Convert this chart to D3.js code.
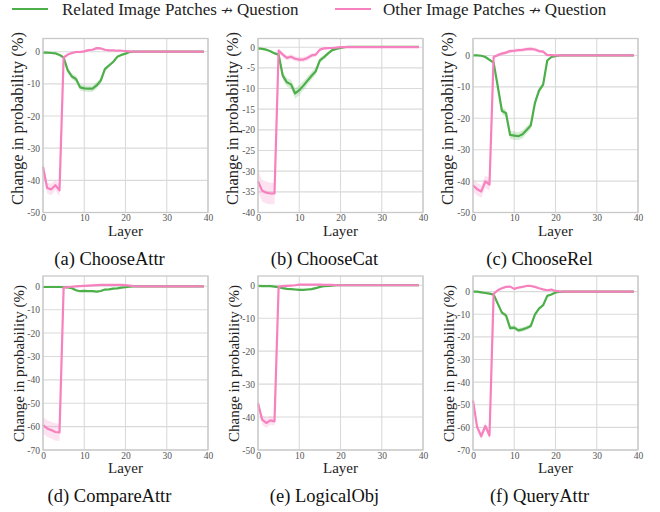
<!DOCTYPE html>
<html>
<head>
<meta charset="utf-8">
<script src="https://cdn.jsdelivr.net/npm/d3@7"></script>
<style>
  body { margin: 0; background: #fff; }
</style>
</head>
<body>
<div id="chart"></div>
<script>
// layer index 0..39
const layers = d3.range(40);
const seriesNames = ["Related Image Patches", "Other Image Patches"];
const seriesSuffix = "Question";
const seriesColors = ["#4daf4a", "#f781bf"];
const xTicks = [0, 10, 20, 30, 40];
const serifFont = "'Liberation Serif', 'Times New Roman', serif";

// (a) ChooseAttr
const chooseAttrRelated = [-0.3,-0.3,-0.4,-0.5,-1.0,-1.8,-5.8,-7.7,-8.5,-11.1,-11.4,-11.5,-11.5,-10.5,-9.0,-5.4,-4.3,-3.2,-1.6,-1.0,-0.6,-0.1,0,0,0,0,0,0,0,0,0,0,0,0,0,0,0,0,0,0];
const chooseAttrRelatedErr = [0.2,0.2,0.2,0.2,0.3,0.4,0.8,0.9,1.0,1.0,1.0,1.0,1.0,1.0,0.9,0.7,0.5,0.4,0.3,0.2,0.2,0.1,0,0,0,0,0,0,0,0,0,0,0,0,0,0,0,0,0,0];
const chooseAttrOther = [-35.8,-42.4,-42.8,-41.5,-43.1,-1.8,-0.9,-0.4,-0.1,-0.1,0.1,0.5,0.6,1.1,1.0,0.6,0.4,0.4,0.3,0.3,0.2,0.1,0,0,0,0,0,0,0,0,0,0,0,0,0,0,0,0,0,0];
const chooseAttrOtherErr = [2.0,1.6,1.8,1.5,2.0,0.4,0.4,0.4,0.4,0.4,0.4,0.4,0.4,0.4,0.4,0.3,0.2,0.2,0.2,0.1,0.1,0.1,0,0,0,0,0,0,0,0,0,0,0,0,0,0,0,0,0,0];

// (b) ChooseCat
const chooseCatRelated = [-0.3,-0.4,-0.6,-1.0,-1.5,-1.8,-6.9,-8.5,-9.0,-11.2,-10.4,-9.3,-8.1,-6.9,-5.8,-3.2,-2.4,-1.5,-0.7,-0.4,-0.2,0,0.1,0.1,0.1,0.1,0.1,0.1,0.1,0.1,0.1,0.1,0.1,0.1,0.1,0.1,0.1,0.1,0.1,0.1];
const chooseCatRelatedErr = [0.2,0.2,0.2,0.2,0.3,0.4,1.0,1.0,1.1,1.3,1.2,1.1,1.0,1.0,0.9,0.6,0.5,0.4,0.3,0.2,0.1,0.1,0,0,0,0,0,0,0,0,0,0,0,0,0,0,0,0,0,0];
const chooseCatOther = [-32.4,-34.7,-35.2,-35.4,-35.4,-0.8,-1.8,-2.6,-2.3,-2.8,-3.0,-3.0,-2.6,-2.0,-1.8,-0.6,-0.3,-0.25,-0.2,-0.1,0,0,0,0,0,0,0,0,0,0,0,0,0,0,0,0,0,0,0,0];
const chooseCatOtherErr = [2.6,2.6,2.7,2.6,2.6,0.5,0.6,0.6,0.6,0.6,0.6,0.6,0.6,0.5,0.5,0.3,0.2,0.2,0.1,0.1,0,0,0,0,0,0,0,0,0,0,0,0,0,0,0,0,0,0,0,0];

// (c) ChooseRel
const chooseRelRelated = [0,0,-0.1,-0.5,-1.4,-2.3,-9.8,-17.6,-18.4,-25.3,-25.5,-25.7,-25.1,-23.7,-22.3,-15.2,-11.2,-9.3,-1.6,-0.5,-0.2,0,0,0,0,0,0,0,0,0,0,0,0,0,0,0,0,0,0,0];
const chooseRelRelatedErr = [0.2,0.2,0.2,0.2,0.3,0.4,0.9,1.1,1.1,1.3,1.3,1.3,1.3,1.2,1.2,1.0,0.9,0.8,0.4,0.2,0.1,0,0,0,0,0,0,0,0,0,0,0,0,0,0,0,0,0,0,0];
const chooseRelOther = [-41.3,-42.6,-43.3,-40.1,-41.1,-0.5,0.1,0.6,0.9,1.4,1.5,1.7,1.8,2.0,2.1,1.9,1.4,1.2,0.1,0.1,0,0,0,0,0,0,0,0,0,0,0,0,0,0,0,0,0,0,0,0];
const chooseRelOtherErr = [2.0,2.0,2.0,2.0,2.0,0.5,0.5,0.5,0.6,0.6,0.6,0.6,0.6,0.6,0.6,0.6,0.5,0.4,0.2,0.1,0,0,0,0,0,0,0,0,0,0,0,0,0,0,0,0,0,0,0,0];

// (d) CompareAttr
const compareAttrRelated = [-0.3,-0.3,-0.3,-0.3,-0.3,-0.4,-0.5,-0.8,-1.7,-2.1,-2.0,-2.1,-2.1,-2.3,-2.0,-1.4,-1.3,-1.0,-0.9,-0.6,-0.4,-0.2,0,0,0,0,0,0,0,0,0,0,0,0,0,0,0,0,0,0];
const compareAttrRelatedErr = [0.2,0.2,0.2,0.2,0.2,0.2,0.3,0.3,0.4,0.4,0.4,0.4,0.4,0.4,0.4,0.3,0.3,0.2,0.2,0.2,0.1,0.1,0,0,0,0,0,0,0,0,0,0,0,0,0,0,0,0,0,0];
const compareAttrOther = [-59.4,-60.8,-61.5,-62.3,-62.5,-0.6,-0.4,-0.2,0,0.1,0.2,0.3,0.4,0.5,0.6,0.6,0.6,0.6,0.6,0.6,0.5,0.3,0.1,0,0,0,0,0,0,0,0,0,0,0,0,0,0,0,0,0];
const compareAttrOtherErr = [3.5,3.5,3.6,3.7,3.7,0.3,0.3,0.3,0.3,0.3,0.3,0.3,0.3,0.3,0.3,0.3,0.3,0.3,0.3,0.3,0.2,0.1,0,0,0,0,0,0,0,0,0,0,0,0,0,0,0,0,0,0];

// (e) LogicalObj
const logicalObjRelated = [-0.2,-0.3,-0.3,-0.3,-0.4,-0.6,-0.9,-1.1,-1.2,-1.3,-1.4,-1.4,-1.3,-1.2,-0.9,-0.5,-0.3,-0.2,-0.1,0,0,0,0,0,0,0,0,0,0,0,0,0,0,0,0,0,0,0,0,0];
const logicalObjRelatedErr = [0.2,0.2,0.2,0.2,0.2,0.3,0.3,0.3,0.3,0.3,0.3,0.3,0.3,0.3,0.3,0.2,0.2,0.1,0.1,0,0,0,0,0,0,0,0,0,0,0,0,0,0,0,0,0,0,0,0,0];
const logicalObjOther = [-35.8,-40.8,-41.8,-41.0,-41.3,-0.4,-0.3,-0.2,-0.1,0,0.2,0.2,0.2,0.2,0.2,0.2,0.1,0.1,0.1,0,0,0,0,0,0,0,0,0,0,0,0,0,0,0,0,0,0,0,0,0];
const logicalObjOtherErr = [1.5,1.5,1.5,1.3,1.3,0.2,0.2,0.2,0.2,0.2,0.2,0.2,0.2,0.2,0.2,0.2,0.1,0.1,0.1,0,0,0,0,0,0,0,0,0,0,0,0,0,0,0,0,0,0,0,0,0];

// (f) QueryAttr
const queryAttrRelated = [0,0,-0.3,-0.6,-0.9,-1.3,-5.3,-9.3,-10.5,-16.1,-15.9,-17.1,-16.7,-16.1,-15.2,-10.2,-7.5,-6.0,-1.9,-1.3,-0.4,-0.1,0,0,0,0,0,0,0,0,0,0,0,0,0,0,0,0,0,0];
const queryAttrRelatedErr = [0.2,0.2,0.2,0.2,0.3,0.4,0.6,0.8,0.9,1.0,1.0,1.0,1.0,1.0,0.9,0.7,0.6,0.5,0.3,0.2,0.1,0,0,0,0,0,0,0,0,0,0,0,0,0,0,0,0,0,0,0];
const queryAttrOther = [-48.1,-59.9,-63.9,-59.4,-63.6,-1.0,0.6,1.5,2.1,2.2,1.2,1.8,2.1,2.5,2.5,2.1,1.5,1.0,0.6,0.9,0.3,0.1,0,0,0,0,0,0,0,0,0,0,0,0,0,0,0,0,0,0];
const queryAttrOtherErr = [1.5,1.5,1.6,1.5,1.6,0.4,0.4,0.4,0.4,0.4,0.4,0.4,0.4,0.4,0.4,0.4,0.3,0.3,0.2,0.2,0.1,0,0,0,0,0,0,0,0,0,0,0,0,0,0,0,0,0,0,0];

const captions = ["(a) ChooseAttr", "(b) ChooseCat", "(c) ChooseRel", "(d) CompareAttr", "(e) LogicalObj", "(f) QueryAttr"];
const yBottoms = [-50, -40, -50, -70, -50, -70];
const yTops = [4.1, 2.1, 5.4, 4.4, 2.8, 6.9];
const yTickSteps = [10, 5, 10, 10, 10, 10];
const related = [chooseAttrRelated, chooseCatRelated, chooseRelRelated, compareAttrRelated, logicalObjRelated, queryAttrRelated];
const relatedErr = [chooseAttrRelatedErr, chooseCatRelatedErr, chooseRelRelatedErr, compareAttrRelatedErr, logicalObjRelatedErr, queryAttrRelatedErr];
const other = [chooseAttrOther, chooseCatOther, chooseRelOther, compareAttrOther, logicalObjOther, queryAttrOther];
const otherErr = [chooseAttrOtherErr, chooseCatOtherErr, chooseRelOtherErr, compareAttrOtherErr, logicalObjOtherErr, queryAttrOtherErr];

const width = 660, height = 512;
const plotW = 165, plotH = 174;
const colX = [43, 258, 473];
const rowY = [38.5, 276];

const svg = d3.select("#chart").append("svg")
  .attr("width", width)
  .attr("height", height);

// legend
const legendItems = [{x: 12, tx: 62}, {x: 335, tx: 383}];
legendItems.forEach(function(d, i) {
  svg.append("line")
    .attr("x1", d.x).attr("x2", d.x + 36)
    .attr("y1", 9).attr("y2", 9)
    .attr("stroke", seriesColors[i])
    .attr("stroke-width", 2.2);
  let t = svg.append("text")
    .style("font-family", serifFont)
    .attr("x", d.tx).attr("y", 15)
    .attr("font-size", 17)
    .attr("fill", "#222");
  t.append("tspan").text(seriesNames[i] + " ");
  // the crossed arrow glyph is missing from Liberation Serif
  t.append("tspan").style("font-family", "'DejaVu Serif', serif").attr("font-size", 14).text("\u219B");
  t.append("tspan").text(" " + seriesSuffix);
});

function drawPanel(p) {
  let col = p % 3, row = Math.floor(p / 3);
  let g = svg.append("g")
    .attr("transform", "translate(" + colX[col] + "," + rowY[row] + ")");

  let x = d3.scaleLinear().domain([0, 40]).range([0, plotW]);
  let y = d3.scaleLinear().domain([yBottoms[p], yTops[p]]).range([plotH, 0]);
  let yTicks = d3.range(yBottoms[p], 0.001, yTickSteps[p]);

  // grid
  g.append("g").selectAll("line").data(yTicks).enter().append("line")
    .attr("x1", 0).attr("x2", plotW)
    .attr("y1", function(d) { return y(d); })
    .attr("y2", function(d) { return y(d); })
    .attr("stroke", "#dadada").attr("stroke-width", 1.1);
  g.append("g").selectAll("line").data(xTicks).enter().append("line")
    .attr("y1", 0).attr("y2", plotH)
    .attr("x1", function(d) { return x(d); })
    .attr("x2", function(d) { return x(d); })
    .attr("stroke", "#dadada").attr("stroke-width", 1.1);

  // bands + lines
  let series = [[related[p], relatedErr[p]], [other[p], otherErr[p]]];
  series.forEach(function(s, i) {
    let area = d3.area()
      .x(function(d) { return x(d); })
      .y0(function(d) { return y(s[0][d] - s[1][d]); })
      .y1(function(d) { return y(s[0][d] + s[1][d]); });
    g.append("path")
      .attr("d", area(layers))
      .attr("fill", seriesColors[i])
      .attr("fill-opacity", 0.22);
  });
  series.forEach(function(s, i) {
    let line = d3.line()
      .x(function(d) { return x(d); })
      .y(function(d) { return y(s[0][d]); });
    g.append("path")
      .attr("d", line(layers))
      .attr("fill", "none")
      .attr("stroke", seriesColors[i])
      .attr("stroke-width", 2.2)
      .attr("stroke-linejoin", "round");
  });

  // frame
  g.append("rect")
    .attr("width", plotW).attr("height", plotH)
    .attr("fill", "none")
    .attr("stroke", "#c8c8c8").attr("stroke-width", 1.3);

  // tick labels
  let yAxis = d3.axisLeft(y).tickValues(yTicks).tickSize(0).tickPadding(3)
    .tickFormat(function(d) { return d < 0 ? "-" + (-d) : d; });
  let ya = g.append("g").call(yAxis);
  ya.select(".domain").remove();
  ya.selectAll("text").style("font-family", serifFont).attr("font-size", 9.5).attr("fill", "#555");

  let xAxis = d3.axisBottom(x).tickValues(xTicks).tickSize(0).tickPadding(2);
  let xa = g.append("g").attr("transform", "translate(0," + plotH + ")").call(xAxis);
  xa.select(".domain").remove();
  xa.selectAll("text").style("font-family", serifFont).attr("font-size", 9.5).attr("fill", "#555");

  g.append("text")
    .style("font-family", serifFont)
    .attr("x", plotW / 2).attr("y", plotH + 23)
    .attr("text-anchor", "middle")
    .attr("font-size", 15)
    .attr("fill", "#222")
    .text("Layer");

  let ylSize = row == 0 ? 16.5 : 15;
  let ylMid = row == 0 ? plotH / 2 - 7 : plotH / 2 + 0.5;
  let ylX = row == 0 ? -20 : -19;
  g.append("text")
    .style("font-family", serifFont)
    .attr("transform", "translate(" + ylX + "," + ylMid + ") rotate(-90)")
    .attr("text-anchor", "middle")
    .attr("font-size", ylSize)
    .attr("fill", "#222")
    .text("Change in probability (%)");

  g.append("text")
    .style("font-family", serifFont)
    .attr("x", plotW / 2 - 16).attr("y", plotH + 52)
    .attr("text-anchor", "middle")
    .attr("font-size", 18.5)
    .attr("fill", "#111")
    .text(captions[p]);
}

for (let p = 0; p < 6; p++) drawPanel(p);
</script>
</body>
</html>
